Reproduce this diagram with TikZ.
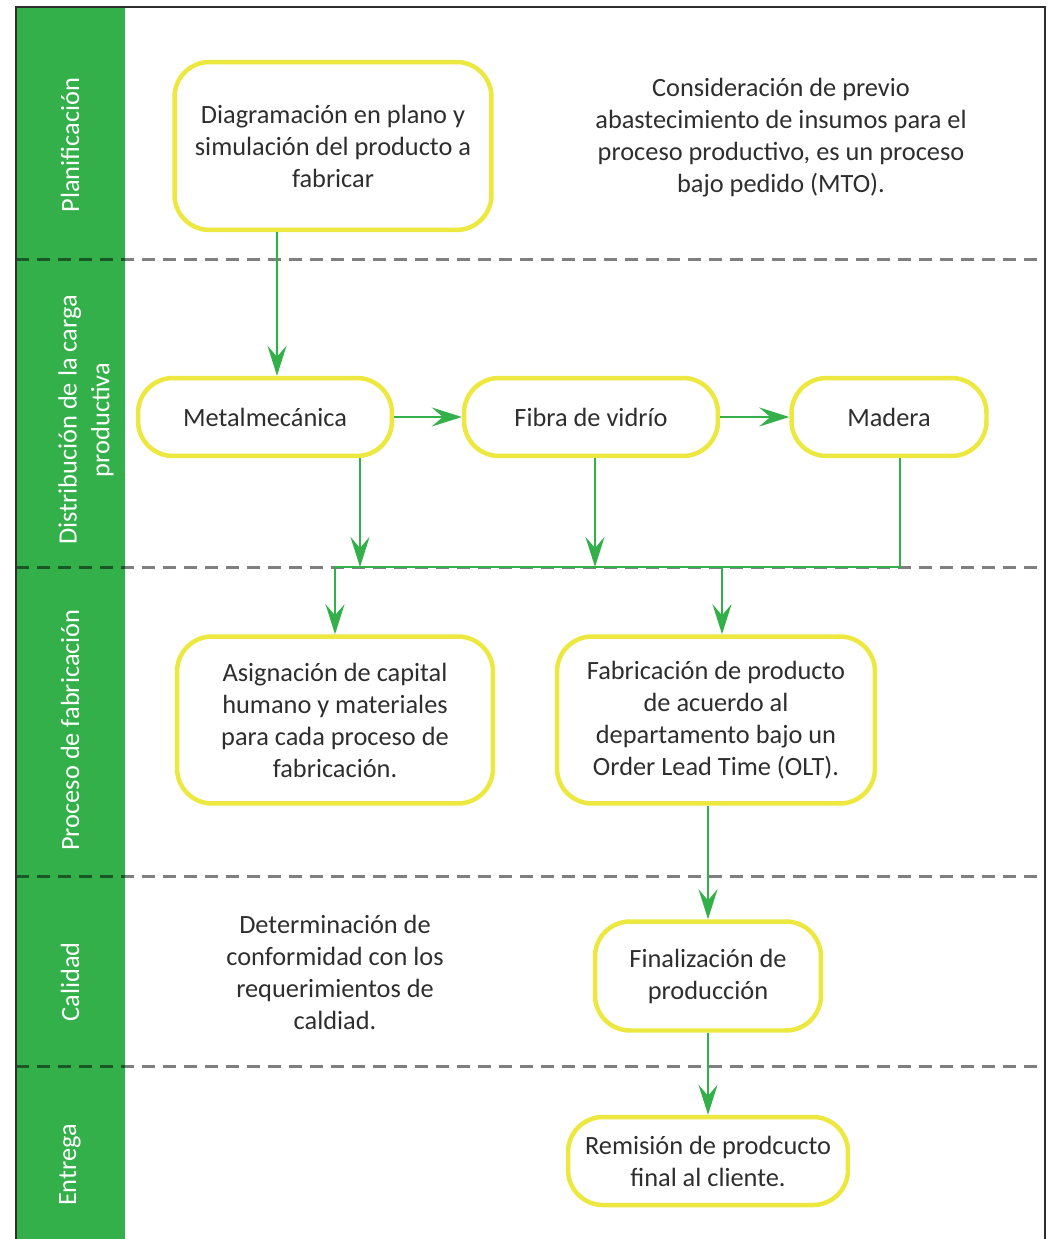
\documentclass[tikz,border=0pt]{standalone}
\usepackage{fontspec}
\setmainfont{Carlito}
\usetikzlibrary{arrows.meta}
\definecolor{lanegreen}{HTML}{33B04A}
\definecolor{boxyellow}{HTML}{EDE83F}
\definecolor{inkgray}{HTML}{2E2E2E}
\tikzset{
  proc/.style={draw=boxyellow, line width=0.09cm, rounded corners=0.7cm, fill=white, text=inkgray,
    align=center, inner sep=0pt, font=\fontsize{15pt}{18.2pt}\selectfont},
  note/.style={text=inkgray, align=center, font=\fontsize{15pt}{18.2pt}\selectfont},
  lane/.style={rotate=90, text=white, align=center, font=\fontsize{15pt}{18.7pt}\selectfont},
  flow/.style={draw=lanegreen, line width=0.045cm, -{Stealth[length=0.6cm,width=0.38cm,inset=0.22cm]}},
  link/.style={draw=lanegreen, line width=0.045cm},
  sep/.style={draw=black, opacity=0.5, line width=0.06cm, dash pattern=on 0.26cm off 0.16cm}
}
\begin{document}
\begin{tikzpicture}[x=0.02cm, y=-0.02cm]
    \useasboundingbox (0,0) rectangle (1049,1239);
    \fill [lanegreen] (16,7) rectangle (125,1239);
    \foreach \y in {260,567,876,1066}
        \draw [sep] (16,\y) -- (1045,\y);
    \draw [inkgray, line width=0.05cm] (16,1239) -- (16,7) -- (1045,7) -- (1045,1239);

    \path (70,145) node [lane] (l1) {Planificación};
    \path (86,420) node [lane] (l2) {Distribución de la carga\\productiva};
    \path (70,730) node [lane] (l3) {Proceso de fabricación};
    \path (70,982) node [lane] (l4) {Calidad};
    \path (70,1165) node [lane] (l5) {Entrega};

    \path (333,146) node [proc, minimum width=6.34cm, minimum height=3.36cm] (plan)
        {Diagramación en plano y\\simulación del producto a\\fabricar};
    \path (781,138) node [note] (mto)
        {Consideración de previo\\abastecimiento de insumos para el\\proceso productivo, es un proceso\\bajo pedido (MTO).};
    \path (265,417) node [proc, minimum width=5.08cm, minimum height=1.56cm] (metal) {Metalmecánica};
    \path (591,417) node [proc, minimum width=5.08cm, minimum height=1.56cm] (fibra) {Fibra de vidrío};
    \path (889,417) node [proc, minimum width=3.9cm, minimum height=1.56cm] (madera) {Madera};
    \path (335,720) node [proc, minimum width=6.32cm, minimum height=3.34cm] (asig)
        {Asignación de capital\\humano y materiales\\para cada proceso de\\fabricación.};
    \path (716,720) node [proc, minimum width=6.36cm, minimum height=3.34cm] (fabr)
        {Fabricación de producto\\de acuerdo al\\departamento bajo un\\Order Lead Time (OLT).};
    \path (335,972) node [note] (conf)
        {Determinación de\\conformidad con los\\requerimientos de\\caldiad.};
    \path (708,976) node [proc, minimum width=4.52cm, minimum height=2.18cm] (final)
        {Finalización de\\producción};
    \path (708,1161) node [proc, minimum width=5.6cm, minimum height=1.76cm] (remi)
        {Remisión de prodcucto\\final al cliente.};

    \coordinate (b1) at (360,567);
    \coordinate (b2) at (595,567);
    \coordinate (b3) at (335,567);
    \coordinate (b4) at (722,567);
    \coordinate (b5) at (900,567);

    \draw [flow] ([xshift=-1.12cm]plan.south) -- ([xshift=0.24cm]metal.north);
    \draw [flow] (metal.east) -- (fibra.west);
    \draw [flow] (fibra.east) -- (madera.west);
    \draw [flow] (metal.south -| b1) -- (b1);
    \draw [flow] (fibra.south -| b2) -- (b2);
    \draw [link] (madera.south -| b5) -- (b5) -- (b3);
    \draw [flow] (b3) -- (asig.north -| b3);
    \draw [flow] (b4) -- (fabr.north -| b4);
    \draw [flow] (fabr.south -| final.north) -- (final.north);
    \draw [flow] (final.south) -- (remi.north);
\end{tikzpicture}
\end{document}
